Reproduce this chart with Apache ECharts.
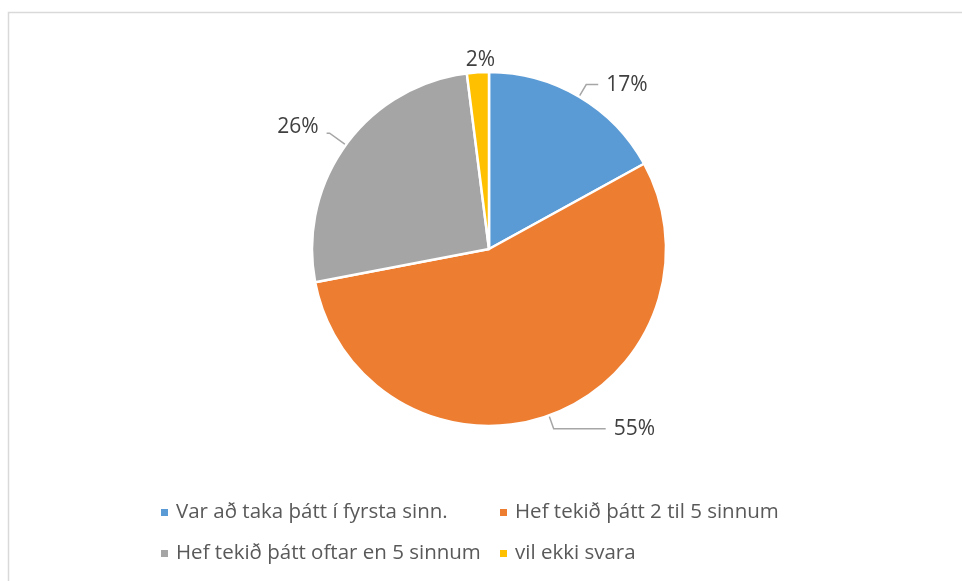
<!DOCTYPE html>
<html>
<head>
<meta charset="utf-8">
<script src="https://cdn.jsdelivr.net/npm/echarts@6/dist/echarts.min.js"></script>
<style>
  html, body { margin: 0; padding: 0; background: #fff; }
  #chart { width: 962px; height: 581px; }
</style>
</head>
<body>
<div id="chart"></div>
<script>
// flokkar og gildi (%)
const categories = [
  'Var að taka þátt í fyrsta sinn.',
  'Hef tekið þátt 2 til 5 sinnum',
  'Hef tekið þátt oftar en 5 sinnum',
  'vil ekki svara'
]
const values = [17, 55, 26, 2]
const colors = ['#5B9BD5', '#ED7D31', '#A5A5A5', '#FFC000']

// legend staðsetning, eitt per flokk (2x2 grind)
const legendPos = [
  { left: 154, top: 497 },
  { left: 493, top: 497 },
  { left: 154, top: 538 },
  { left: 493, top: 538 }
]

// leiðarlínur fyrir hvern merkimiða
const labelLines = [
  { length: 14, length2: 12 },
  { length: 14, length2: 52 },
  { length: 20, length2: 3 },
  { show: false, length: 8, length2: 0 }
]

const chart = echarts.init(document.getElementById('chart'))

const legendTextStyle = {
  color: '#595959',
  fontSize: 20.5,
  fontFamily: 'Open Sans',
  padding: [0, 0, 0, 2]
}

const option = {
  backgroundColor: '#fff',
  color: colors,
  graphic: [
    {
      type: 'rect',
      shape: { x: 8.5, y: 12.5, width: 1000, height: 1000 },
      style: { fill: 'none', stroke: '#d9d9d9', lineWidth: 1.5 },
      silent: true
    }
  ],
  legend: categories.map((name, i) => ({
    data: [name],
    left: legendPos[i].left,
    top: legendPos[i].top,
    icon: 'rect',
    itemWidth: 9,
    itemHeight: 9,
    itemGap: 0,
    textStyle: legendTextStyle,
    selectedMode: false
  })),
  series: [
    {
      type: 'pie',
      center: [489, 249],
      radius: [0, 177],
      startAngle: 90,
      clockwise: true,
      animation: false,
      itemStyle: { borderColor: '#fff', borderWidth: 2.5 },
      label: {
        show: true,
        formatter: '{c}%',
        color: '#404040',
        fontSize: 21,
        fontFamily: 'Open Sans',
        padding: [0, 3]
      },
      labelLine: {
        show: true,
        smooth: false,
        lineStyle: { color: '#a6a6a6', width: 1.5 }
      },
      labelLayout: (params) => {
        if (params.dataIndex === 3) {
          return { align: 'center', dx: 8, dy: -4 }
        }
        if (params.dataIndex === 2) {
          return { dy: -6 }
        }
        return {}
      },
      data: categories.map((name, i) => ({
        name,
        value: values[i],
        labelLine: labelLines[i]
      }))
    }
  ]
}

chart.setOption(option)
</script>
</body>
</html>
